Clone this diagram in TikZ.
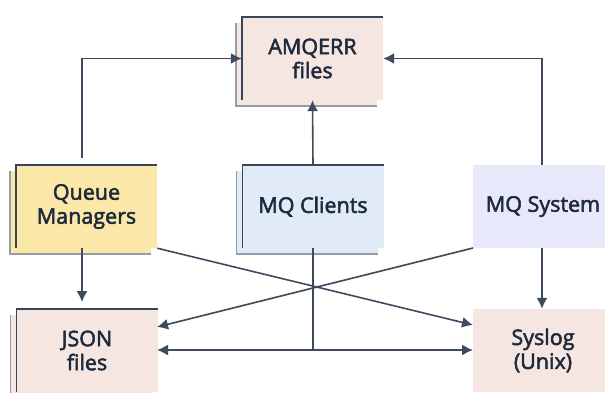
\documentclass[tikz,border=0pt]{standalone}
\usepackage{fontspec}
\newfontfamily\lbl{Open Sans}[FakeBold=2.4]
\usetikzlibrary{arrows.meta,calc}
\definecolor{pinkf}{HTML}{F6E6E2}
\definecolor{yelf}{HTML}{FBE8A8}
\definecolor{bluef}{HTML}{E1EBF7}
\definecolor{lavf}{HTML}{E8E8FB}
\definecolor{edge}{HTML}{3A4557}
\definecolor{backedge}{HTML}{959CA6}
\definecolor{txt}{HTML}{1D2A3C}
\definecolor{wire}{HTML}{3F4A5C}
\tikzset{
  front/.style={minimum width=141pt, minimum height=83pt, inner sep=0pt, align=center,
    font=\lbl\fontsize{21.5}{24}\selectfont, text=txt},
  wireline/.style={draw=wire, line width=1.6pt},
  arr/.style={wireline, -{Latex[length=11pt,width=11pt]}},
  darr/.style={wireline, {Latex[length=11pt,width=11pt]}-{Latex[length=11pt,width=11pt]}},
}
\newcommand{\stackbox}[4]{% name, centre, fill, text
  \fill[#3] ($(#2)+(-76.5pt,-47.5pt)$) rectangle ++(141pt,83pt);
  \draw[backedge, line width=1.2pt] ($(#2)+(-76.5pt,35.5pt)$) |- ++(141pt,-83pt);
  \node[front, fill=#3] (#1) at (#2) {#4};
  \draw[edge, line width=1.5pt] (#1.south west) |- (#1.north east);
}
\begin{document}
\begin{tikzpicture}[x=1pt,y=-1pt]
\useasboundingbox (0,0) rectangle (605,392);
\stackbox{amq}{312.5,58.5}{pinkf}{AMQERR\\files}
\stackbox{qm}{86.5,206.5}{yelf}{Queue\\Managers}
\stackbox{cl}{313,206.5}{bluef}{MQ Clients}
\stackbox{json}{87,350.5}{pinkf}{JSON\\files}
\node[front, fill=lavf, minimum width=140pt] (sys) at (543,206.5) {MQ System};
\node[front, fill=pinkf, minimum width=140pt] (sl) at (543,350.5) {Syslog\\(Unix)};
% connectors
\coordinate (qmtop) at (82,158);
\coordinate (systop) at (542,165);
\draw[arr] (qmtop) |- (amq.west);
\draw[arr] (systop) |- (amq.east);
\draw[arr] (cl.north) -- (amq.south);
\draw[arr] (qm.south -| qmtop) -- (82,302);
\draw[arr] (sys.south -| systop) -- (sl.north -| systop);
\coordinate (slin) at (473,325);
\coordinate (jsin) at (157,327);
\coordinate (sysbl) at (473,248);
\draw[arr] (qm.south east) -- (slin);
\draw[arr] (sysbl) -- (jsin);
\coordinate (hl) at (157,350);
\coordinate (hr) at (473,350);
\draw[darr] (hl) -- (hr);
\draw[wireline] (cl.south) -- (cl.south |- hl);
\end{tikzpicture}
\end{document}
